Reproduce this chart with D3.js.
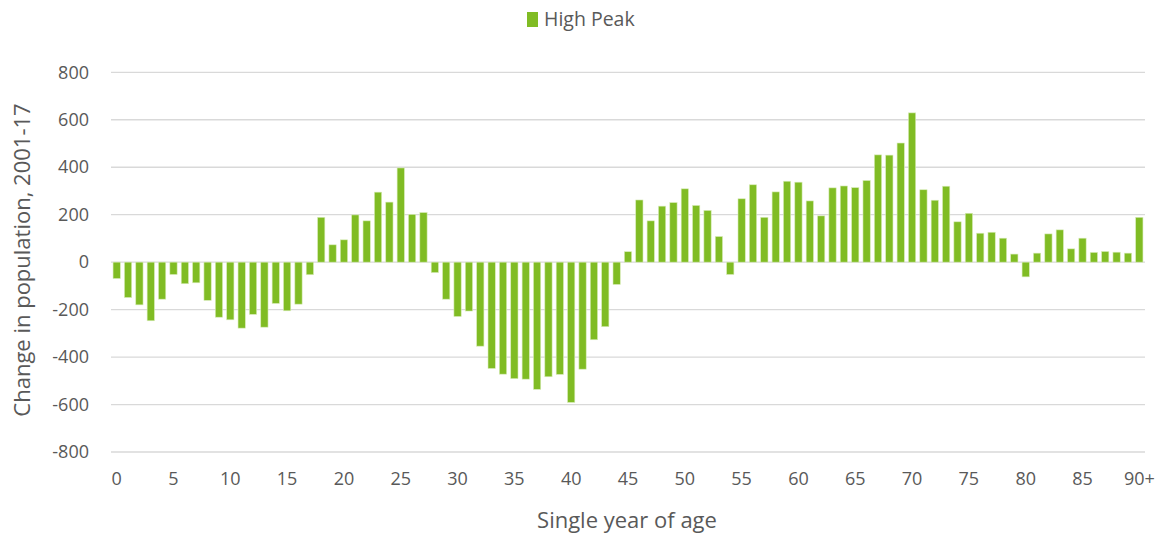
<!DOCTYPE html>
<html><head><meta charset="utf-8">
<script src="https://cdn.jsdelivr.net/npm/d3@7"></script>
<style>body{margin:0;background:#fff}svg{display:block}text{font-family:"Open Sans",sans-serif;fill:#595959}</style>
</head><body><svg id="c" width="1162" height="538"></svg>
<script>
const ages = d3.range(0, 91).map(a => a === 90 ? "90+" : String(a));
const values = [
 -69,-149,-180,-247,-156,-52,-91,-87,-161,-232,
 -243,-278,-220,-274,-174,-205,-177,-53,189,73,
 94,199,174,295,253,397,201,209,-44,-156,
 -229,-206,-354,-448,-472,-491,-493,-536,-483,-473,
 -591,-451,-327,-272,-94,44,262,174,236,251,
 309,239,218,108,-52,267,326,189,296,341,
 337,258,195,313,321,314,344,452,451,502,
 629,305,261,320,170,206,122,126,101,34,
 -62,38,119,136,56,101,41,45,42,38,189];
const yTicks = [-800,-600,-400,-200,0,200,400,600,800];
const xTickLabels = ["0","5","10","15","20","25","30","35","40","45","50","55","60","65","70","75","80","85","90+"];
const seriesName = "High Peak";
const color = "#80BC24";

const svg = d3.select("#c");
const x = d3.scaleBand().domain(ages).range([111, 1145]).paddingInner(0.36).paddingOuter(0.18);
const y = d3.scaleLinear().domain([-800, 800]).range([452, 72.3]);

// gridlines
svg.append("g").selectAll("line").data(yTicks).join("line")
  .attr("x1", 111).attr("x2", 1145)
  .attr("y1", d => y(d)).attr("y2", d => y(d))
  .attr("stroke", "#d9d9d9").attr("stroke-width", 1.3);

// y axis labels
const yAxis = d3.axisLeft(y).tickValues(yTicks).tickSize(0).tickPadding(0).tickFormat(d => String(d));
const gy = svg.append("g").attr("transform", "translate(89,0)").call(yAxis);
gy.select(".domain").remove();
gy.selectAll("text").attr("font-size", 18).style("font-family", '"Open Sans",sans-serif').attr("fill", "#595959");

// bars
svg.append("g").selectAll("rect").data(values).join("rect")
  .attr("x", (d, i) => x(ages[i]))
  .attr("width", x.bandwidth())
  .attr("y", d => y(Math.max(0, d)))
  .attr("height", d => Math.abs(y(d) - y(0)))
  .attr("fill", color)
  .attr("stroke", "#d8ecb8").attr("stroke-width", 0.6);

// x axis labels
const xAxis = d3.axisBottom(x).tickValues(ages.filter(a => xTickLabels.includes(a))).tickSize(0).tickPadding(0);
const gx = svg.append("g").attr("transform", "translate(0,472)").call(xAxis);
gx.select(".domain").remove();
gx.selectAll("text").attr("font-size", 18).attr("dy", "0.71em").style("font-family", '"Open Sans",sans-serif').attr("fill", "#595959");

// axis titles
svg.append("text").attr("x", 627).attr("y", 528).attr("text-anchor", "middle")
  .attr("font-size", 22).text("Single year of age");
svg.append("text").attr("transform", "translate(30,260) rotate(-90)").attr("text-anchor", "middle")
  .attr("font-size", 22).text("Change in population, 2001-17");

// legend
svg.append("rect").attr("x", 527).attr("y", 12).attr("width", 11).attr("height", 15).attr("fill", color);
svg.append("text").attr("x", 544).attr("y", 26).attr("font-size", 19.5).text(seriesName);
</script></body></html>
